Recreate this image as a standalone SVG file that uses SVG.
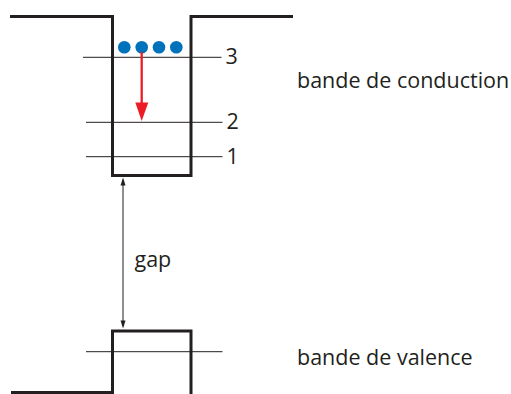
<svg xmlns="http://www.w3.org/2000/svg" width="511" height="394" viewBox="0 0 511 394">
<style>
.wall{fill:none;stroke:#231f20;stroke-width:3;stroke-linejoin:miter}
.lvl{stroke:#231f20;stroke-width:1}
.t{font-family:"Open Sans","Liberation Sans",sans-serif;font-size:21.5px;fill:#231f20}
.dot{fill:#0072bc}
.head{fill:#231f20}
</style>
<rect width="511" height="394" fill="#fff"/>
<g id="conduction-well">
<path class="wall" d="M10,16.5 H112.5 V175.5 H191 V16.5 H293"/>
</g>
<g id="valence-well">
<path class="wall" d="M11,392.5 H112.5 V331 H191 V394"/>
<path class="wall" d="M112.5,392.5 V394"/>
</g>
<g id="level-3">
<line class="lvl" x1="83" y1="57.3" x2="221.5" y2="57.3"/>
<text class="t" x="225.5" y="64">3</text>
</g>
<g id="level-2">
<line class="lvl" x1="86" y1="122.3" x2="222.5" y2="122.3"/>
<text class="t" x="226.5" y="128.5">2</text>
</g>
<g id="level-1">
<line class="lvl" x1="86" y1="156.7" x2="222.5" y2="156.7"/>
<text class="t" x="226.5" y="163.5">1</text>
</g>
<g id="valence-level">
<line class="lvl" x1="86" y1="351.7" x2="222.5" y2="351.7"/>
</g>
<g id="electrons">
<circle class="dot" cx="124.3" cy="47.3" r="6.3"/>
<circle class="dot" cx="141.7" cy="47.3" r="6.3"/>
<circle class="dot" cx="159" cy="47.3" r="6.3"/>
<circle class="dot" cx="176.3" cy="47.3" r="6.3"/>
</g>
<g id="labels">
<text class="t" x="297" y="88.3">bande de conduction</text>
<text class="t" x="297" y="365">bande de valence</text>
<text class="t" x="134.5" y="266.5">gap</text>
</g>
<g id="connectors">
<line x1="141.7" y1="52" x2="141.7" y2="104" stroke="#ed1c24" stroke-width="2.3"/>
<path d="M135.3,102.5 L148.3,102.5 L141.7,121 Z" fill="#ed1c24"/>
<line x1="123" y1="180" x2="123" y2="326" stroke="#231f20" stroke-width="1"/>
<path class="head" d="M123,177.5 L120.5,185.5 L125.5,185.5 Z"/>
<path class="head" d="M123,328.5 L120.5,320.5 L125.5,320.5 Z"/>
</g>
</svg>
